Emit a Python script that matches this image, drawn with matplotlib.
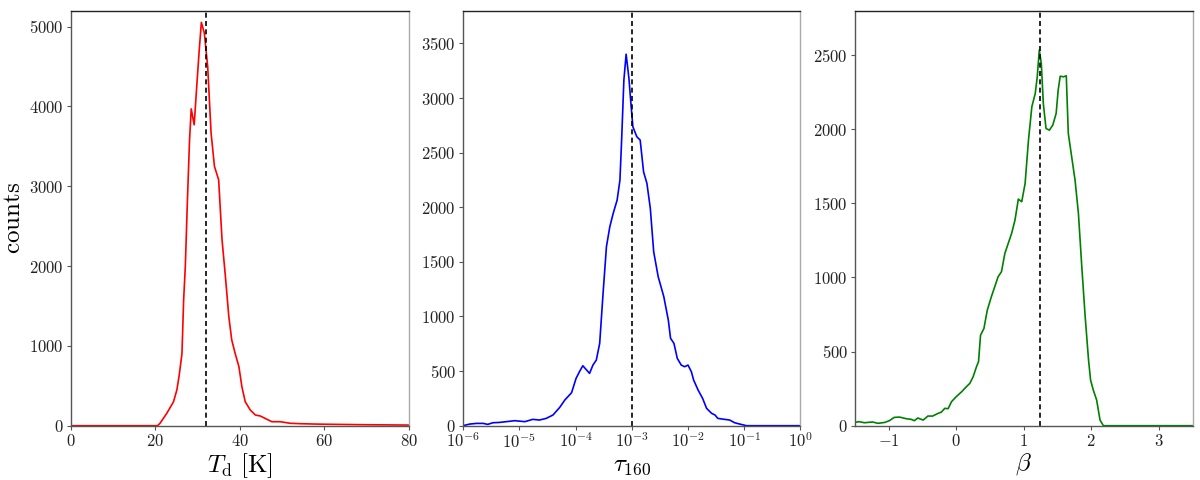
import numpy as np
import matplotlib
matplotlib.use("Agg")
import matplotlib.pyplot as plt
from matplotlib.ticker import FuncFormatter, FixedLocator, NullLocator

plt.rcParams['mathtext.fontset'] = 'cm'
plt.rcParams['font.family'] = ['DejaVu Serif']

# ---- data: dust temperature histogram ----
td_x = [0, 20.5, 21.1, 22.7, 24.3, 25.1, 25.6, 26.3, 26.7, 27.1, 27.6, 28.1, 28.5, 29.2,
        29.8, 30.4, 30.9, 31.6, 32.4, 33.2, 34.0, 35.0, 35.8, 36.6, 37.4, 38.1, 38.9,
        39.8, 40.5, 41.3, 42.5, 43.7, 44.9, 46.0, 47.6, 49.6, 52.0, 54.4, 58.3, 62.3,
        70.2, 80.0]
td_counts = [0, 0, 30, 155, 300, 450, 615, 900, 1576, 2000, 2830, 3580, 3970, 3770,
             4250, 4710, 5054, 4920, 4500, 3670, 3250, 3080, 2330, 1870, 1370, 1075, 907,
             740, 490, 300, 196, 134, 121, 92, 50, 50, 30, 25, 20, 17, 12, 8]
td_median = 32.0

# ---- data: optical depth histogram (log10 tau) ----
tau_log = [-6.0, -5.88, -5.76, -5.64, -5.56, -5.47, -5.35, -5.23, -5.08, -4.90, -4.76,
           -4.64, -4.52, -4.40, -4.28, -4.19, -4.07, -3.99, -3.93, -3.87, -3.75, -3.69,
           -3.63, -3.57, -3.51, -3.45, -3.39, -3.33, -3.26, -3.21, -3.18, -3.14, -3.10,
           -3.05, -3.01, -2.98, -2.91, -2.85, -2.79, -2.73, -2.67, -2.61, -2.53, -2.43,
           -2.35, -2.31, -2.25, -2.19, -2.12, -2.06, -2.00, -1.94, -1.90, -1.82, -1.74,
           -1.67, -1.58, -1.52, -1.47, -1.35, -1.26, -1.17, -1.08, -0.96, 0.0]
tau_counts = [0, 15, 21, 21, 12, 27, 30, 37, 46, 37, 58,
              52, 67, 98, 168, 235, 302, 433, 494, 549, 479, 555,
              601, 754, 1211, 1639, 1822, 1944, 2066, 2249, 2615, 3164, 3402,
              3180, 2920, 2737, 2646, 2615, 2325, 2218, 1990, 1593, 1364, 1181,
              967, 800, 754, 616, 555, 540, 555, 494, 418, 326, 250,
              159, 113, 98, 67, 58, 52, 27, 15, 0, 0]
tau_median = 1e-3

# ---- data: emissivity index histogram ----
beta_x = [-1.51, -1.44, -1.36, -1.24, -1.16, -1.06, -0.99, -0.92, -0.84, -0.74, -0.67,
          -0.62, -0.57, -0.49, -0.42, -0.35, -0.27, -0.22, -0.17, -0.12, -0.07, 0.00,
          0.08, 0.15, 0.20, 0.25, 0.30, 0.33, 0.36, 0.41, 0.46, 0.52, 0.57, 0.62, 0.67,
          0.72, 0.77, 0.82, 0.87, 0.92, 0.97, 1.02, 1.07, 1.12, 1.17, 1.20, 1.23, 1.26,
          1.29, 1.33, 1.38, 1.43, 1.48, 1.51, 1.54, 1.59, 1.63, 1.66, 1.71, 1.76, 1.81,
          1.86, 1.91, 1.96, 1.99, 2.03, 2.08, 2.13, 2.18, 3.51]
beta_counts = [22, 27, 20, 25, 16, 22, 34, 56, 58, 47, 43,
               34, 52, 38, 65, 65, 83, 92, 117, 115, 162, 196,
               229, 263, 285, 330, 398, 432, 611, 656, 780, 870, 937, 1005, 1039,
               1162, 1230, 1297, 1387, 1529, 1511, 1634, 1927, 2152, 2241, 2354, 2534, 2444,
               2174, 2005, 1994, 2028, 2107, 2264, 2358, 2354, 2361, 1972, 1814, 1657, 1432,
               1072, 735, 443, 308, 241, 173, 38, 0, 0]
beta_median = 1.24

fig = plt.figure(figsize=(12, 4.8), dpi=100)
W, H = 1200.0, 480.0
top_px, bot_px = 10.7, 425.7
lefts = [71, 463, 855]
width_px = 337.5
axes = [fig.add_axes([l / W, 1 - bot_px / H, width_px / W, (bot_px - top_px) / H]) for l in lefts]

int_fmt = FuncFormatter(lambda v, p: r'$%d$' % int(round(v)))

def style(ax):
    for s in ['left', 'bottom']:
        ax.spines[s].set_color('#555555')
    ax.spines['top'].set_color('#222222')
    ax.spines['right'].set_color('#aaaaaa')
    for s in ax.spines.values():
        s.set_linewidth(1.0)
    ax.tick_params(direction='out', length=3, width=0.8, color='#555555',
                   labelsize=12, labelcolor='#222222', pad=2)

lw = 1.2
LBL = 18
# panel 1
ax = axes[0]
ax.plot(td_x, td_counts, color='red', lw=lw)
ax.axvline(td_median, color='black', ls='--', lw=1.2, dashes=(3, 2))
ax.set_xlim(0, 80)
ax.set_ylim(0, 5200)
ax.xaxis.set_major_locator(FixedLocator([0, 20, 40, 60, 80]))
ax.yaxis.set_major_locator(FixedLocator([0, 1000, 2000, 3000, 4000, 5000]))
ax.xaxis.set_major_formatter(int_fmt)
ax.yaxis.set_major_formatter(int_fmt)
ax.set_xlabel(r'$T_{\rm d}\ [{\rm K}]$', fontsize=LBL, labelpad=1)
ax.set_ylabel(r'${\rm counts}$', fontsize=LBL, labelpad=3)
style(ax)

# panel 2
ax = axes[1]
ax.plot(10 ** np.array(tau_log), tau_counts, color='blue', lw=lw)
ax.axvline(tau_median, color='black', ls='--', lw=1.2, dashes=(3, 2))
ax.set_xscale('log')
ax.set_xlim(1e-6, 1)
ax.set_ylim(0, 3800)
ax.xaxis.set_major_locator(FixedLocator([1e-6, 1e-5, 1e-4, 1e-3, 1e-2, 1e-1, 1]))
ax.xaxis.set_minor_locator(NullLocator())
ax.xaxis.set_major_formatter(FuncFormatter(lambda v, p: r'$10^{%d}$' % int(round(np.log10(v)))))
ax.yaxis.set_major_locator(FixedLocator([0, 500, 1000, 1500, 2000, 2500, 3000, 3500]))
ax.yaxis.set_major_formatter(int_fmt)
ax.set_xlabel(r'$\tau_{160}$', fontsize=LBL, labelpad=1)
style(ax)

# panel 3
ax = axes[2]
ax.plot(beta_x, beta_counts, color='green', lw=lw)
ax.axvline(beta_median, color='black', ls='--', lw=1.2, dashes=(3, 2))
ax.set_xlim(-1.5, 3.5)
ax.set_ylim(0, 2800)
ax.xaxis.set_major_locator(FixedLocator([-1, 0, 1, 2, 3]))
ax.xaxis.set_major_formatter(int_fmt)
ax.yaxis.set_major_locator(FixedLocator([0, 500, 1000, 1500, 2000, 2500]))
ax.yaxis.set_major_formatter(int_fmt)
ax.set_xlabel(r'$\beta$', fontsize=LBL, labelpad=1)
style(ax)

fig.savefig('out.png', dpi=100)
